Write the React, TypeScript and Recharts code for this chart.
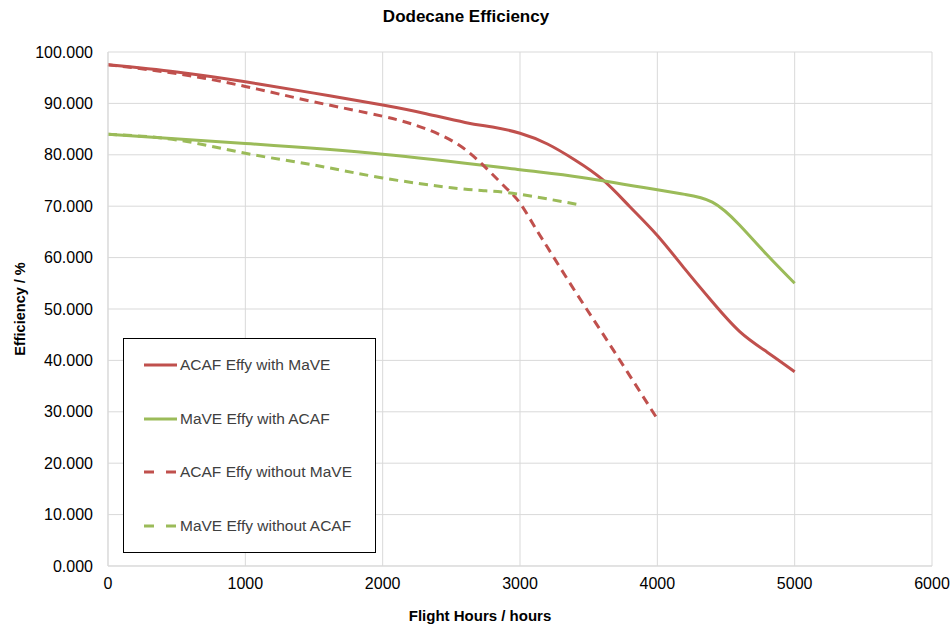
import { LineChart, Line, XAxis, YAxis, CartesianGrid } from 'recharts';

// hours / efficiency
const acafWithHours = [0, 500, 1000, 1500, 2000, 2300, 2600, 2800, 3000, 3200, 3400, 3600, 3800, 4000, 4200, 4400, 4600, 4800, 5000];
const acafWithValues = [97.5, 96.1, 94.2, 92.0, 89.7, 88.1, 86.3, 85.4, 84.2, 82.1, 79.0, 75.2, 69.9, 64.3, 57.8, 51.4, 45.6, 41.6, 37.8];

const maveWithHours = [0, 1000, 2000, 3000, 3450, 4000, 4200, 4400, 4600, 4800, 5000];
const maveWithValues = [84.0, 82.2, 80.1, 77.1, 75.6, 73.2, 72.3, 70.8, 66.3, 60.5, 55.0];

const acafWithoutHours = [0, 500, 1000, 1500, 2000, 2300, 2550, 2750, 2900, 3000, 3100, 3200, 3400, 3600, 3800, 4000];
const acafWithoutValues = [97.5, 95.8, 93.3, 90.3, 87.5, 85.2, 82.0, 77.5, 73.5, 70.6, 66.3, 62.0, 53.5, 45.3, 37.0, 28.6];

const maveWithoutHours = [0, 500, 1000, 1500, 2000, 2500, 2750, 3000, 3450];
const maveWithoutValues = [84.0, 82.9, 80.3, 78.0, 75.5, 73.6, 73.0, 72.3, 70.2];

const xTicks = [0, 1000, 2000, 3000, 4000, 5000, 6000];
const yTicks = [0, 10, 20, 30, 40, 50, 60, 70, 80, 90, 100];

const RED = '#C0504D';
const GREEN = '#9BBB59';
const FONT = '"Liberation Sans", Arial, sans-serif';

const toRows = (hours: number[], values: number[]) =>
  hours.map((h, i) => ({ hours: h, eff: values[i] }));

const series = [
  { name: 'ACAF Effy with MaVE', color: RED, dashed: false, data: toRows(acafWithHours, acafWithValues) },
  { name: 'MaVE Effy with ACAF', color: GREEN, dashed: false, data: toRows(maveWithHours, maveWithValues) },
  { name: 'ACAF Effy without MaVE', color: RED, dashed: true, data: toRows(acafWithoutHours, acafWithoutValues) },
  { name: 'MaVE Effy without ACAF', color: GREEN, dashed: true, data: toRows(maveWithoutHours, maveWithoutValues) },
];

// legend drawn as an overlay so it doesn't shrink the plot area
const LegendBox = () => (
  <div
    style={{
      position: 'absolute',
      left: 123,
      top: 338,
      width: 253,
      height: 215,
      border: '1px solid #000',
      background: '#fff',
      boxSizing: 'border-box',
    }}
  >
    {series.map((s, i) => (
      <div
        key={s.name}
        style={{
          position: 'absolute',
          left: 0,
          top: 16 + i * 53.5,
          height: 20,
          display: 'flex',
          alignItems: 'center',
          fontFamily: FONT,
          fontSize: 15.5,
          color: '#404040',
          whiteSpace: 'nowrap',
        }}
      >
        <svg width={33} height={6} style={{ marginLeft: 20, marginRight: 3 }}>
          <line
            x1={0}
            y1={3}
            x2={33}
            y2={3}
            stroke={s.color}
            strokeWidth={3}
            strokeDasharray={s.dashed ? '10 12' : undefined}
          />
        </svg>
        <span>{s.name}</span>
      </div>
    ))}
  </div>
);

export default function App() {
  return (
    <div style={{ position: 'absolute', left: 0, top: 0, width: 951, height: 626, background: '#fff' }}>
      <div
        style={{
          position: 'absolute',
          left: 0,
          width: 932,
          top: 7,
          textAlign: 'center',
          fontFamily: FONT,
          fontWeight: 'bold',
          fontSize: 17,
          color: '#000',
        }}
      >
        Dodecane Efficiency
      </div>
      <LineChart width={951} height={626} margin={{ top: 52, right: 19, bottom: 30, left: 0 }}>
        <CartesianGrid stroke="#d9d9d9" strokeWidth={1} />
        <XAxis
          dataKey="hours"
          type="number"
          domain={[0, 6000]}
          ticks={xTicks}
          height={30}
          allowDuplicatedCategory={false}
          stroke="#d9d9d9"
          tickLine={false}
          tickSize={0}
          tickMargin={12}
          tick={{ fill: '#000', fontFamily: FONT, fontSize: 16 }}
        />
        <YAxis
          type="number"
          domain={[0, 100]}
          ticks={yTicks}
          width={108}
          stroke="#d9d9d9"
          tickLine={false}
          tickSize={0}
          tickMargin={15}
          tickFormatter={(v: number) => v.toFixed(3)}
          tick={{ fill: '#000', fontFamily: FONT, fontSize: 16 }}
        />
        {series.map((s) => (
          <Line
            key={s.name}
            data={s.data}
            dataKey="eff"
            name={s.name}
            type="natural"
            stroke={s.color}
            strokeWidth={3}
            strokeDasharray={s.dashed ? '9 6' : undefined}
            dot={false}
            activeDot={false}
            isAnimationActive={false}
          />
        ))}
      </LineChart>
      <LegendBox />
      <div
        style={{
          position: 'absolute',
          left: 108,
          width: 744,
          top: 607,
          textAlign: 'center',
          fontFamily: FONT,
          fontWeight: 'bold',
          fontSize: 15,
          color: '#000',
        }}
      >
        Flight Hours / hours
      </div>
      <div
        style={{
          position: 'absolute',
          left: 20,
          top: 309,
          transform: 'translate(-50%, -50%) rotate(-90deg)',
          whiteSpace: 'nowrap',
          fontFamily: FONT,
          fontWeight: 'bold',
          fontSize: 14.5,
          color: '#000',
        }}
      >
        Efficiency / %
      </div>
    </div>
  );
}
